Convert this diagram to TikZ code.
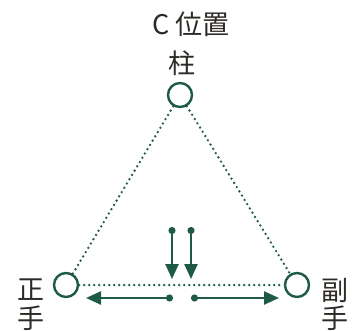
\documentclass[tikz,border=0pt]{standalone}
\usepackage{fontspec}
\newfontfamily\cjk{Noto Sans CJK JP}
\usetikzlibrary{arrows.meta}
\definecolor{pgreen}{HTML}{1E5A45}
\definecolor{ptext}{HTML}{2E2A26}
\begin{document}
\begin{tikzpicture}[x=1bp,y=-1bp,
  spot/.style={circle,draw=pgreen,line width=2.4bp,minimum size=24bp,inner sep=0pt},
  lbl/.style={text=ptext,font=\cjk\fontsize{27bp}{30bp}\selectfont,inner sep=0pt},
  dotline/.style={draw=pgreen,line width=2.6bp,dash pattern=on 0bp off 5bp,line cap=round},
  move/.style={draw=pgreen,line width=2.4bp,{Circle[length=7bp]}-{Triangle[width=13bp,length=15bp]}}]
\useasboundingbox (0,0) rectangle (359,331);
\node[spot] (top) at (180,95) {};
\node[spot] (left) at (66,285) {};
\node[spot] (right) at (297,285) {};
\node[lbl,anchor=west] (title) at (152,24) {C 位置};
\node[lbl] (pillar) at (182,63) {柱};
\node[lbl] (lname1) at (31,290) {正};
\node[lbl] (lname2) at (31,318) {手};
\node[lbl] (rname1) at (335,291) {副};
\node[lbl] (rname2) at (335,318) {手};
\draw[dotline] (top) -- (left);
\draw[dotline] (top) -- (right);
\draw[dotline] (left) -- (right);
\coordinate (d1s) at (172,227);
\coordinate (d1e) at (172,279);
\coordinate (d2s) at (191,227);
\coordinate (d2e) at (191,279);
\coordinate (h1s) at (173,298);
\coordinate (h1e) at (86,298);
\coordinate (h2s) at (191,298);
\coordinate (h2e) at (279,298);
\draw[move] (d1s) -- (d1e);
\draw[move] (d2s) -- (d2e);
\draw[move] (h1s) -- (h1e);
\draw[move] (h2s) -- (h2e);
\end{tikzpicture}
\end{document}
